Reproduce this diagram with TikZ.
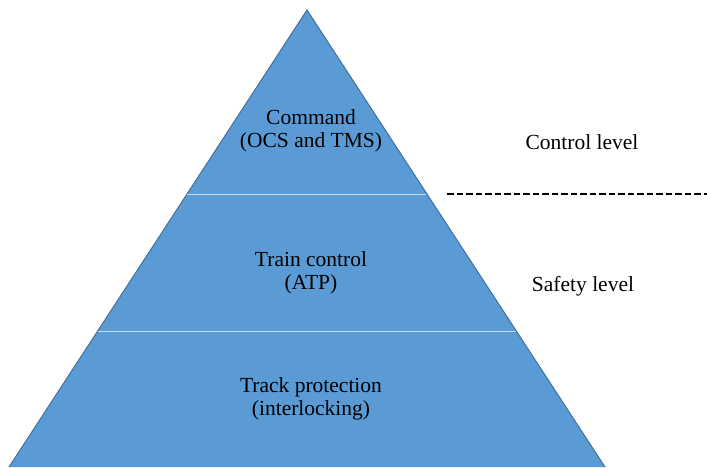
\documentclass[tikz,border=0pt]{standalone}
\usepackage{fontspec}
\setmainfont{Liberation Serif}
\definecolor{pyrfill}{HTML}{5B9BD5}
\definecolor{pyredge}{HTML}{41719C}
\definecolor{divline}{HTML}{C5DCF0}
\begin{document}
\begin{tikzpicture}[x=1pt,y=-1pt,
  lbl/.style={align=center,font=\fontsize{21.5}{23.5}\selectfont,text=black,inner sep=0pt},
  divider/.style={draw=divline,line width=1.2pt},
  sep/.style={draw=black,line width=1.3pt,dash pattern=on 6.5pt off 3pt}]
\useasboundingbox (0,0) rectangle (707,467);
\coordinate (apex) at (307,10);
\coordinate (bl) at (9,467);
\coordinate (br) at (605,467);
\fill[pyrfill] (apex) -- (br) -- (bl) -- cycle;
\draw[pyredge,line width=1pt] (bl) -- (apex) -- (br);
\coordinate (d1l) at (187,194.5);
\coordinate (d1r) at (426,194.5);
\coordinate (d2l) at (98,331.5);
\coordinate (d2r) at (516,331.5);
\draw[divider] (d1l) -- (d1r);
\draw[divider] (d2l) -- (d2r);
\coordinate (s1) at (447,194);
\coordinate (s2) at (707,194);
\draw[sep] (s1) -- (s2);
\node[lbl] (cmd) at (311,131) {Command\\(OCS and TMS)};
\node[lbl] (tc) at (311,273) {Train control\\(ATP)};
\node[lbl] (tp) at (311,399) {Track protection\\(interlocking)};
\node[lbl] (cl) at (582,142) {Control level};
\node[lbl] (sl) at (583,286) {Safety level};
\end{tikzpicture}
\end{document}
